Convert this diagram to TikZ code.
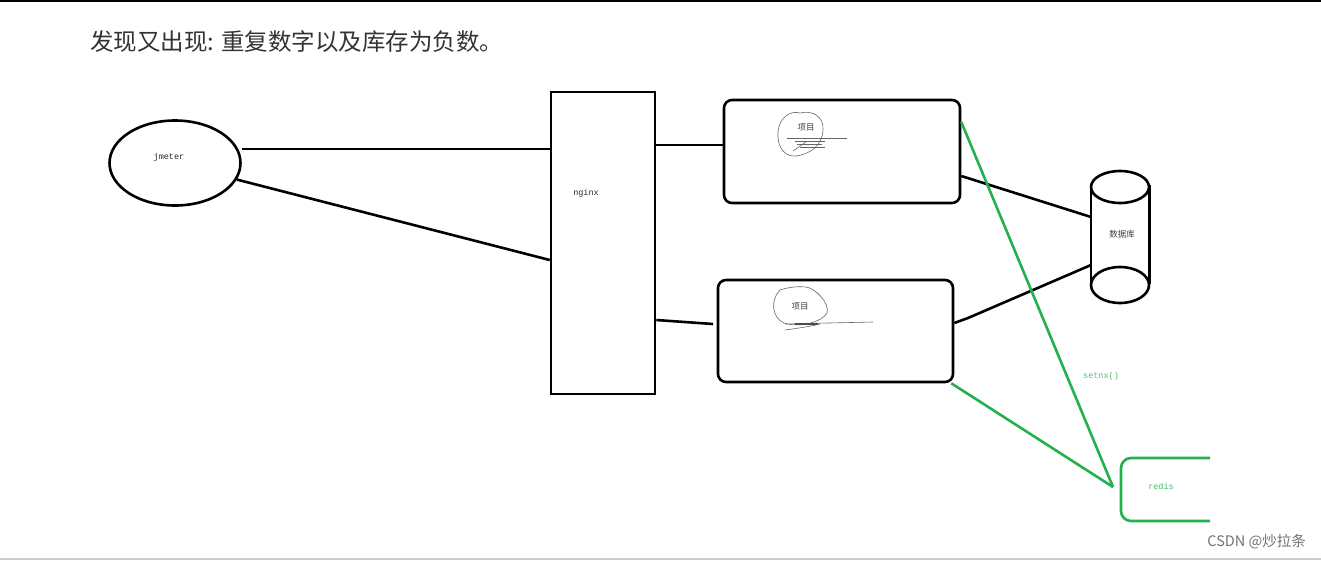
\documentclass[tikz,border=0pt]{standalone}
\usepackage{fontspec}
\setmainfont{Liberation Sans}
\newfontfamily\cjk{Noto Sans CJK SC}
\newfontfamily\monof{Liberation Mono}
\usetikzlibrary{shapes.geometric,calc}
\definecolor{pgreen}{RGB}{34,177,76}
\definecolor{headc}{RGB}{51,51,51}
\begin{document}
\begin{tikzpicture}[x=1pt,y=-1pt,
  thick line/.style={line width=2.6pt,black},
  glink/.style={line width=2.6pt,pgreen},
  boxnode/.style={draw,line width=2.6pt,rounded corners=8pt,inner sep=0pt},
  lbl/.style={font=\monof\fontsize{8.5}{9}\selectfont,inner sep=0pt,text=black!85},
  cjklbl/.style={font=\cjk\fontsize{8.5}{9}\selectfont,text=black!75,inner sep=0pt},
  scrib/.style={line width=0.6pt,black!60}]
\useasboundingbox (0,0) rectangle (1321,560);
\fill[white] (0,0) rectangle (1321,560);
\fill[black] (0,0) rectangle (1321,2);
\fill[black!20] (0,557.5) rectangle (1321,560);
% heading
\node[anchor=west,inner sep=0pt,text=headc,font=\cjk\fontsize{23.5}{26}\selectfont] (title) at (90,42) {发现又出现: 重复数字以及库存为负数。};
% jmeter
\node[draw,ellipse,line width=2.6pt,minimum width=131pt,minimum height=85pt,inner sep=0pt] (jm) at (175,163) {};
\node[lbl] (jmt) at (169,157) {jmeter};
% nginx
\node[draw,line width=2.6pt,minimum width=104pt,minimum height=302pt,inner sep=0pt] (ng) at (603,243) {};
\node[lbl] (ngt) at (586,193) {nginx};
% project boxes
\node[boxnode,minimum width=236pt,minimum height=103pt] (p1) at (842,151.5) {};
\node[boxnode,minimum width=235pt,minimum height=102pt] (p2) at (835.5,331) {};
\node[cjklbl] (p1t) at (806,127) {项目};
\node[cjklbl] (p2t) at (800,306) {项目};
% scribbles
\draw[scrib] (800,113) .. controls (790,110) and (779,118) .. (778,132) .. controls (777,148) and (785,157) .. (796,156) .. controls (810,154) and (822,146) .. (823,130) .. controls (824,116) and (812,110) .. (800,113);
\draw[scrib] (787,138) -- (847,138);
\draw[scrib] (795,141) -- (825,141);
\draw[scrib] (797,144) -- (822,144);
\draw[scrib] (800,147) -- (825,147);
\draw[scrib] (793,151) -- (806,142);
\draw[scrib] (780,290) .. controls (770,300) and (772,318) .. (784,323) .. controls (800,328) and (822,322) .. (827,313) .. controls (830,303) and (815,288) .. (806,287) .. controls (795,286) and (786,288) .. (780,290);
\draw[scrib] (785,324) -- (873,322);
\draw[scrib] (785,330) .. controls (800,328) and (812,326) .. (820,324);
\draw[line width=1.4pt,black!70] (795,324) -- (818,324);
% database cylinder
\node[minimum width=58pt,minimum height=132pt,inner sep=0pt] (db) at (1120,236) {};
\draw[line width=2.6pt] ($(db.north west)+(0,15)$) -- ($(db.south west)+(0,-18)$);
\draw[line width=2.6pt] ($(db.north east)+(0,15)$) -- ($(db.south east)+(0,-18)$);
\draw[line width=2.6pt,fill=white] (1120,187) ellipse (29pt and 16pt);
\draw[line width=2.6pt,fill=white] (1120,285) ellipse (29pt and 18pt);
\node[cjklbl] (dbt) at (1122,234) {数据库};
% redis
\coordinate (rtr) at (1210,458);
\coordinate (rbr) at (1210,521);
\draw[glink,rounded corners=10pt] (rtr) -- (1121,458) -- (1121,521) -- (rbr);
\node[lbl,text=pgreen!85] (rd) at (1161,486) {redis};
\coordinate (rin) at (1113,487);
% black connectors
\draw[thick line] (jm.east |- 0,149) -- (ng.west |- 0,149);
\draw[thick line] (jm.-15) -- (ng.west |- 0,260);
\draw[thick line] (ng.east |- 0,145) -- (p1.west |- 0,145);
\draw[thick line] (ng.east |- 0,320) -- (713,324);
\draw[thick line] (p1.east |- 0,176) -- (1091,217);
\draw[thick line] (p2.east |- 0,323) -- (968,318) -- (1091,265);
% green connectors
\draw[glink] (p1.east |- 0,122) -- (rin);
\draw[glink] ($(p2.south east)+(-3,0)$) -- (rin);
\node[lbl,text=pgreen!80] (sx) at (1101,376) {setnx()};
% watermark
\node[anchor=east,inner sep=0pt,text=black!55,font=\cjk\fontsize{14.5}{16}\selectfont] (wm) at (1306,542) {CSDN @炒拉条};
\end{tikzpicture}
\end{document}
